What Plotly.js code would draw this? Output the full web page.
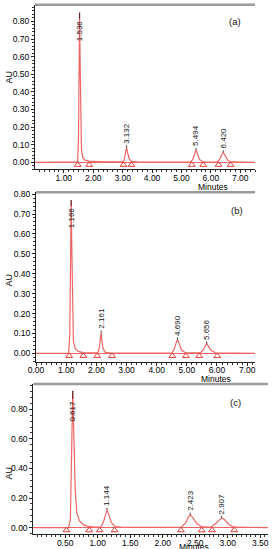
<!DOCTYPE html>
<html><head><meta charset="utf-8">
<script src="https://cdn.plot.ly/plotly-3.0.1.min.js"></script>
<style>html,body{margin:0;padding:0;background:#fff;}#chart{width:273px;height:549px;}</style>
</head><body><div id="chart"></div>
<script>
// ---------- Panel (a) ----------
const timeA = [0.02,1.40,1.47,1.50,1.52,1.536,1.55,1.57,1.60,1.65,1.72,1.85,2.00,2.30,2.60,3.00,3.05,3.10,3.132,3.16,3.22,3.30,3.50,4.50,5.30,5.38,5.45,5.494,5.54,5.62,5.72,6.20,6.28,6.36,6.420,6.48,6.57,6.67,7.50];
const auA   = [0,0,0.003,0.15,0.60,0.85,0.62,0.25,0.07,0.025,0.012,0.006,0.004,0.003,0.002,0.002,0.012,0.058,0.085,0.06,0.02,0.005,0.002,0.001,0.001,0.015,0.05,0.07,0.05,0.015,0.003,0.001,0.012,0.042,0.057,0.04,0.012,0.002,0];
const peakRtA = [1.536,3.132,5.494,6.420];
const peakAuA = [0.85,0.085,0.07,0.057];
const peakLblA = ["1.536","3.132","5.494","6.420"];
const triA = [1.47,1.86,3.03,3.30,5.35,5.74,6.26,6.67];

// ---------- Panel (b) ----------
const timeB = [0.00,1.08,1.12,1.14,1.166,1.19,1.21,1.24,1.30,1.40,1.55,2.05,2.10,2.14,2.161,2.18,2.22,2.30,2.50,4.50,4.58,4.65,4.690,4.73,4.82,4.95,5.45,5.55,5.62,5.656,5.70,5.80,5.95,7.26];
const auB   = [0,0,0.10,0.45,0.77,0.50,0.20,0.06,0.025,0.01,0.004,0.002,0.03,0.08,0.105,0.07,0.025,0.005,0.001,0.001,0.02,0.055,0.07,0.055,0.018,0.003,0.002,0.018,0.042,0.05,0.04,0.015,0.003,0];
const peakRtB = [1.166,2.161,4.690,5.656];
const peakAuB = [0.77,0.105,0.07,0.05];
const peakLblB = ["1.166","2.161","4.690","5.656"];
const triB = [1.10,1.57,2.03,2.52,4.52,4.97,5.41,6.01];

// ---------- Panel (c) ----------
const timeC = [0.01,0.55,0.58,0.60,0.617,0.635,0.655,0.68,0.72,0.78,0.85,0.95,1.05,1.09,1.12,1.144,1.17,1.21,1.27,1.40,2.28,2.35,2.40,2.423,2.46,2.52,2.60,2.74,2.82,2.88,2.907,2.95,3.02,3.10,3.62];
const auC   = [0,0,0.05,0.50,0.925,0.60,0.25,0.10,0.045,0.02,0.008,0.003,0.005,0.04,0.09,0.12,0.09,0.035,0.007,0.002,0.002,0.03,0.075,0.088,0.07,0.03,0.005,0.003,0.03,0.06,0.066,0.055,0.02,0.003,0];
const peakRtC = [0.617,1.144,2.423,2.907];
const peakAuC = [0.925,0.12,0.088,0.066];
const peakLblC = ["0.617","1.144","2.423","2.907"];
const triC = [0.52,0.87,1.03,1.26,2.28,2.60,2.76,3.10];

const panelLabels = ["(a)","(b)","(c)"];
const yTitle = "AU";
const xTitle = "Minutes";

// ---------- layout geometry (pixels) ----------
const W = 273, H = 549;
const panels = [
  {t:timeA,v:auA,rt:peakRtA,pk:peakAuA,lbl:peakLblA,tri:triA, px:[35,255], py:[4.7,169.3], xr:[0.02,7.50], yr:[-0.040,0.895], ydt:0.1, ymin:0.02, xdt:1, xmin:1/6, big:18, lab:[235,21.7], au:[8.5,77], mn:[213,187]},
  {t:timeB,v:auB,rt:peakRtB,pk:peakAuB,lbl:peakLblB,tri:triB, px:[36,255], py:[192.3,361.7], xr:[0.00,7.26], yr:[-0.042,0.809], ydt:0.1, ymin:0.02, xdt:1, xmin:1/6, big:18, lab:[237,210], au:[8.5,280], mn:[216,378.5]},
  {t:timeC,v:auC,rt:peakRtC,pk:peakAuC,lbl:peakLblC,tri:triC, px:[33.3,268], py:[384,534.3], xr:[0.01,3.62], yr:[-0.045,0.971], ydt:0.2, ymin:0.04, xdt:0.5, xmin:0.5/7, big:20, lab:[235,402.7], au:[8.5,473], mn:[194,546.5]}
];

const red = '#ef6464';
const fam = '"Liberation Sans", Arial, sans-serif';
const tickFont = {family:fam, size:8.5, color:'#000'};
const traces = [], annotations = [], shapes = [];
const layout = {width:W, height:H, margin:{l:0,r:0,t:0,b:0}, showlegend:false,
  paper_bgcolor:'#fff', plot_bgcolor:'#fff', font:tickFont};

panels.forEach((p,i)=>{
  const n = i===0 ? '' : String(i+1);
  const xa = 'x'+n, ya = 'y'+n;
  traces.push({type:'scatter', mode:'lines', x:p.t, y:p.v, xaxis:xa, yaxis:ya,
    line:{color:red, width:1.2}, hoverinfo:'skip'});
  const pxPerUnit = (p.py[1]-p.py[0])/(p.yr[1]-p.yr[0]);
  const triY = p.tri.map(()=> -2.6/pxPerUnit);
  traces.push({type:'scatter', mode:'markers', x:p.tri, y:triY, xaxis:xa, yaxis:ya,
    marker:{symbol:'triangle-up-open', size:6, color:'#e5403a', line:{width:1, color:'#e5403a'}}, hoverinfo:'skip'});
  layout['xaxis'+n] = {domain:[p.px[0]/W, p.px[1]/W], anchor:ya, range:p.xr,
    showline:true, linecolor:'#222', linewidth:1, showgrid:false, zeroline:false,
    ticks:'outside', ticklen:3, tickcolor:'#222', tickwidth:1, dtick:p.xdt, tick0:0, tickformat:'.2f',
    ticklabelstandoff:-3, tickfont:tickFont,
    minor:{ticks:'outside', ticklen:2, tickcolor:'#333', dtick:p.xmin, tick0:0, showgrid:false}};
  layout['yaxis'+n] = {domain:[1-p.py[1]/H, 1-p.py[0]/H], anchor:xa, range:p.yr,
    showline:true, linecolor:'#222', linewidth:1, showgrid:false,
    zeroline:true, zerolinecolor:red, zerolinewidth:1,
    ticks:'outside', ticklen:3, tickcolor:'#222', tickwidth:1, dtick:p.ydt, tick0:0, tickformat:'.2f',
    tickfont:tickFont,
    minor:{ticks:'outside', ticklen:2, tickcolor:'#333', dtick:p.ymin, tick0:0, showgrid:false}};
  shapes.push({type:'line', xref:xa+' domain', yref:ya+' domain', x0:0, x1:1, y0:1, y1:1,
    line:{color:'#9c9c9c', width:2.5}});
  p.rt.forEach((rt,k)=>{
    const big = p.pk[k] > 0.5;
    annotations.push({xref:xa, yref:ya, x:rt, y:p.pk[k], text:p.lbl[k], textangle:-90,
      showarrow:true, arrowhead:0, arrowwidth:0.8, arrowcolor:'#111', standoff:0,
      ax:0, ay: big ? p.big : -14,
      font:{family:fam, size:8, color:'#111'}});
  });
  annotations.push({xref:'paper', yref:'paper', x:p.lab[0]/W, y:1-p.lab[1]/H, text:panelLabels[i],
    showarrow:false, xanchor:'center', yanchor:'middle', font:{family:fam, size:9.5, color:'#111'}});
  annotations.push({xref:'paper', yref:'paper', x:p.au[0]/W, y:1-p.au[1]/H, text:yTitle, textangle:-90,
    showarrow:false, xanchor:'center', yanchor:'middle', font:{family:fam, size:9, color:'#000'}});
  annotations.push({xref:'paper', yref:'paper', x:p.mn[0]/W, y:1-p.mn[1]/H, text:xTitle,
    showarrow:false, xanchor:'center', yanchor:'middle', font:{family:fam, size:8.5, color:'#000'}});
});
layout.annotations = annotations;
layout.shapes = shapes;
Plotly.newPlot('chart', traces, layout, {staticPlot:true, displayModeBar:false});
</script>
</body></html>
